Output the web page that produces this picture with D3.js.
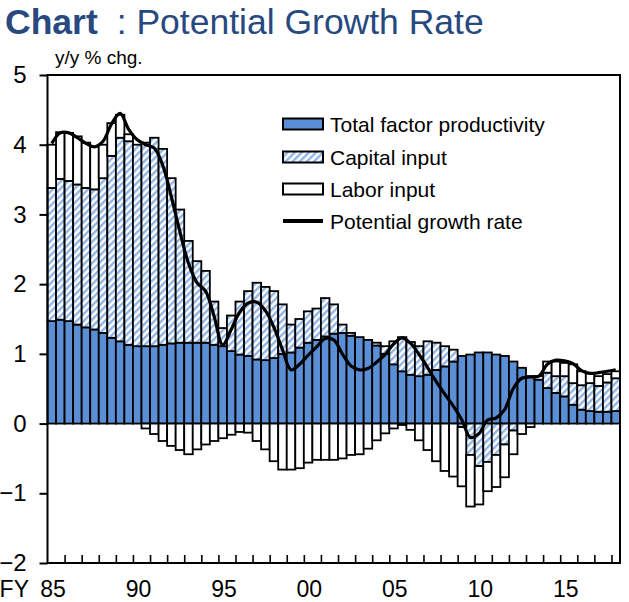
<!DOCTYPE html>
<html><head><meta charset="utf-8">
<script src="https://cdn.jsdelivr.net/npm/d3@7"></script>
<style>
html,body{margin:0;padding:0;background:#fff;}
svg{display:block;font-family:"Liberation Sans",Arial,sans-serif;}
</style></head>
<body><svg id="c" width="629" height="602"></svg>
<script>
// Half-year periods FY1985H1 .. FY2018H1
const periods = ["85H1","85H2","86H1","86H2","87H1","87H2","88H1","88H2","89H1","89H2",
"90H1","90H2","91H1","91H2","92H1","92H2","93H1","93H2","94H1","94H2",
"95H1","95H2","96H1","96H2","97H1","97H2","98H1","98H2","99H1","99H2",
"00H1","00H2","01H1","01H2","02H1","02H2","03H1","03H2","04H1","04H2",
"05H1","05H2","06H1","06H2","07H1","07H2","08H1","08H2","09H1","09H2",
"10H1","10H2","11H1","11H2","12H1","12H2","13H1","13H2","14H1","14H2",
"15H1","15H2","16H1","16H2","17H1","17H2","18H1"];

const tfp = [1.47,1.49,1.47,1.42,1.38,1.35,1.30,1.23,1.18,1.13,
1.11,1.11,1.11,1.13,1.15,1.16,1.16,1.16,1.16,1.13,
1.11,1.04,0.99,0.97,0.92,0.91,0.94,1.00,1.02,1.09,
1.16,1.20,1.25,1.29,1.30,1.26,1.24,1.20,1.12,1.00,
0.85,0.75,0.70,0.68,0.70,0.77,0.82,0.89,0.97,0.99,
1.02,1.02,0.99,0.97,0.89,0.80,0.68,0.63,0.51,0.44,
0.39,0.27,0.20,0.18,0.17,0.17,0.18];

const capital = [1.91,2.02,2.01,2.01,2.00,2.01,2.22,2.61,2.92,2.92,
2.89,2.92,2.99,2.81,2.37,1.91,1.46,1.17,1.03,0.62,
0.26,0.51,0.76,0.93,1.10,1.05,0.96,0.71,0.40,0.41,
0.45,0.45,0.55,0.42,0.12,0.04,0.00,0.00,0.04,0.11,
0.33,0.49,0.47,0.43,0.48,0.39,0.29,0.17,-0.05,-0.45,
-0.61,-0.55,-0.45,-0.30,-0.10,0.00,0.00,0.00,0.22,0.24,
0.29,0.31,0.35,0.40,0.37,0.42,0.47];

const labor = [0.62,0.67,0.69,0.69,0.65,0.61,0.48,0.47,0.33,0.10,
0.00,-0.07,-0.15,-0.25,-0.32,-0.38,-0.44,-0.37,-0.30,-0.25,
-0.21,-0.16,-0.12,-0.13,-0.25,-0.37,-0.54,-0.66,-0.66,-0.64,
-0.56,-0.52,-0.52,-0.52,-0.50,-0.45,-0.44,-0.36,-0.24,-0.14,
-0.07,-0.02,-0.09,-0.24,-0.38,-0.54,-0.68,-0.76,-0.85,-0.74,
-0.55,-0.42,-0.46,-0.47,-0.34,-0.15,-0.05,0.05,0.16,0.21,
0.19,0.27,0.20,0.14,0.14,0.12,0.10];

const potential = [4.02,4.17,4.17,4.10,4.02,3.97,4.05,4.30,4.45,4.22,
4.07,4.00,3.95,3.70,3.25,2.75,2.30,2.02,1.90,1.54,
1.13,1.35,1.60,1.73,1.74,1.62,1.38,1.06,0.77,0.85,
0.98,1.10,1.22,1.20,1.00,0.83,0.77,0.79,0.88,0.99,
1.14,1.23,1.15,0.99,0.80,0.60,0.42,0.25,0.05,-0.20,
-0.14,0.05,0.08,0.20,0.50,0.65,0.67,0.68,0.85,0.91,
0.90,0.86,0.76,0.72,0.73,0.75,0.77];

const seriesNames = ["Total factor productivity","Capital input","Labor input"];
const lineName = "Potential growth rate";
const yTicks = [-2,-1,0,1,2,3,4,5];
const xTickLabels = ["85","90","95","00","05","10","15"];
const xTickYears = [1985,1990,1995,2000,2005,2010,2015];

const svg = d3.select("#c");
const X0 = 47.5, X1 = 620, Y0 = 75, Y1 = 563;

const x = d3.scaleBand().domain(periods).range([X0, X1]).padding(0);
const y = d3.scaleLinear().domain([-2, 5]).range([Y1, Y0]);
const yr = d3.scaleLinear().domain([1985, 1985 + periods.length / 2]).range([X0, X1]);

// hatch pattern
const defs = svg.append("defs");
const pat = defs.append("pattern").attr("id","hatch").attr("patternUnits","userSpaceOnUse")
  .attr("width",5).attr("height",5).attr("patternTransform","rotate(45)");
pat.append("rect").attr("width",5).attr("height",5).attr("fill","#ffffff");
pat.append("rect").attr("x",0).attr("y",0).attr("width",2.4).attr("height",5).attr("fill","#8fb4e3");

const fills = ["#5a8fd6","url(#hatch)","#ffffff"];

// Title
const title = svg.append("text").attr("x",5).attr("y",34).attr("fill","#27497f")
  .style("font-size","35.5px");
title.append("tspan").attr("font-weight","bold").text("Chart");
title.append("tspan").attr("dx",19).text(": Potential Growth Rate");

svg.append("text").attr("x",55).attr("y",64).style("font-size","19px").attr("fill","#000")
  .text("y/y % chg.");

// stacked data
const rows = periods.map((p,i)=>({p, a: tfp[i], b: capital[i], c: labor[i]}));
const stack = d3.stack().keys(["a","b","c"]).offset(d3.stackOffsetDiverging);
const stacked = stack(rows);

const gBars = svg.append("g");
stacked.forEach((s, si) => {
  gBars.append("g").selectAll("rect").data(s.filter(d => d[1] !== d[0])).join("rect")
    .attr("x", d => x(d.data.p))
    .attr("width", x.bandwidth())
    .attr("y", d => y(Math.max(d[0], d[1])))
    .attr("height", d => Math.abs(y(d[0]) - y(d[1])))
    .attr("fill", fills[si])
    .attr("stroke", "#000").attr("stroke-width", 1.8);
});

// line
const line = d3.line()
  .x((d,i) => x(periods[i]) + x.bandwidth()/2)
  .y(d => y(d))
  .curve(d3.curveCatmullRom.alpha(0.5));
svg.append("path").datum(potential).attr("d", line)
  .attr("fill","none").attr("stroke","#000").attr("stroke-width",3.2)
  .attr("stroke-linejoin","round");

// frame
svg.append("rect").attr("x",X0).attr("y",Y0).attr("width",X1-X0).attr("height",Y1-Y0)
  .attr("fill","none").attr("stroke","#000").attr("stroke-width",2);

// y axis
const yAxis = svg.append("g").attr("transform",`translate(${X0},0)`)
  .call(d3.axisLeft(y).tickValues(yTicks).tickSize(8).tickPadding(13).tickFormat(d3.format("d")));
yAxis.select(".domain").remove();
yAxis.selectAll("line").attr("stroke","#000").attr("stroke-width",2);
yAxis.selectAll("text").style("font-size","24px").attr("fill","#000")
  .style("font-family","'Liberation Sans',Arial,sans-serif");

// x ticks (year boundaries, inward)
const yearBounds = d3.range(1986, 1985 + Math.floor(periods.length/2) + 1);
const xAxis = svg.append("g").attr("transform",`translate(0,${Y1})`)
  .call(d3.axisBottom(yr).tickValues(yearBounds).tickSize(-8).tickFormat(""));
xAxis.select(".domain").remove();
xAxis.selectAll("line").attr("stroke","#000").attr("stroke-width",1.6);

// x labels
svg.append("g").selectAll("text").data(xTickLabels).join("text")
  .attr("x", (d,i) => yr(xTickYears[i] + 0.5) - 3)
  .attr("y", 597)
  .attr("text-anchor","middle").style("font-size","23px").attr("fill","#000")
  .text(d => d);
svg.append("text").attr("x",29).attr("y",597).attr("text-anchor","end")
  .style("font-size","23px").attr("fill","#000").text("FY");

// legend
const lg = svg.append("g");
const lx = 283, ly = [124, 157, 189, 221];
seriesNames.forEach((n,i) => {
  lg.append("rect").attr("x",lx).attr("y",ly[i]-5.5).attr("width",40).attr("height",11)
    .attr("fill",fills[i]).attr("stroke","#000").attr("stroke-width",2);
  lg.append("text").attr("x",lx+47).attr("y",ly[i]+7.5).style("font-size","21px")
    .attr("fill","#000").text(n);
});
lg.append("line").attr("x1",lx).attr("x2",lx+40).attr("y1",ly[3]).attr("y2",ly[3])
  .attr("stroke","#000").attr("stroke-width",4);
lg.append("text").attr("x",lx+47).attr("y",ly[3]+7.5).style("font-size","21px")
  .attr("fill","#000").text(lineName);
</script></body></html>
